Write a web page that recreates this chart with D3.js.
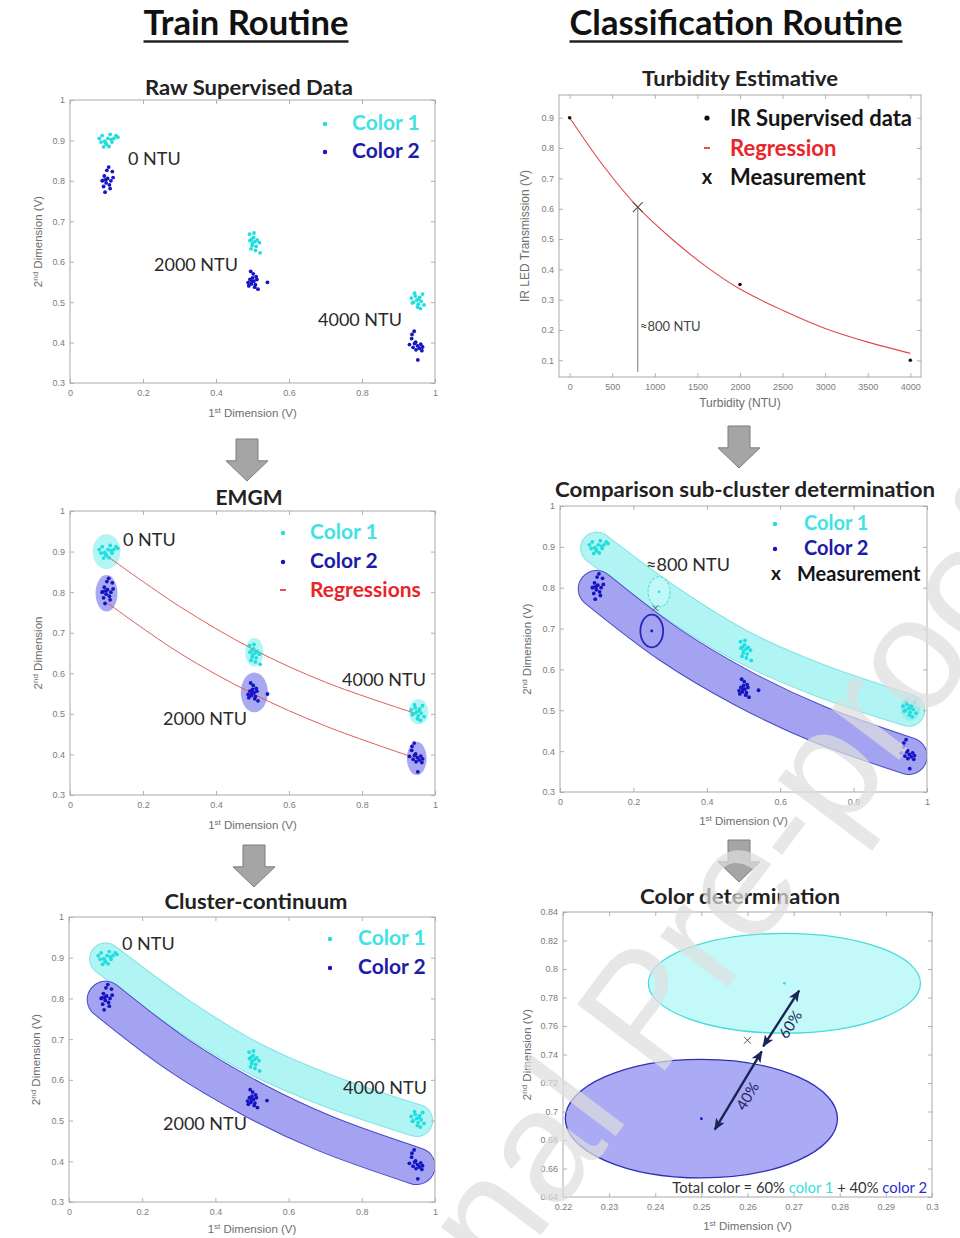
<!DOCTYPE html>
<html>
<head>
<meta charset="utf-8">
<script src="https://cdn.jsdelivr.net/npm/d3@7"></script>
<style>
  body { margin: 0; background: #fff; }
  svg { display: block; }
</style>
</head>
<body>
<svg id="fig" width="960" height="1238"></svg>
<script>
// ---------------- data ----------------
const routineHeaders = ["Train Routine", "Classification Routine"];
const panelTitles = ["Raw Supervised Data", "Turbidity Estimative", "EMGM",
  "Comparison sub-cluster determination", "Cluster-continuum", "Color determination"];
const turbidityLabels = ["0 NTU", "2000 NTU", "4000 NTU"];
const colorNames = ["Color 1", "Color 2"];

// supervised samples [1st dimension, 2nd dimension] (V)
const color1At0 = [[0.080,0.905],[0.088,0.912],[0.095,0.898],[0.100,0.890],[0.104,0.905],[0.110,0.915],[0.115,0.896],[0.120,0.905],[0.126,0.912],[0.092,0.884],[0.107,0.885],[0.098,0.893],[0.113,0.902],[0.085,0.896],[0.131,0.908]];
const color2At0 = [[0.088,0.800],[0.094,0.812],[0.099,0.795],[0.103,0.806],[0.108,0.790],[0.112,0.800],[0.118,0.808],[0.092,0.786],[0.096,0.772],[0.101,0.826],[0.106,0.834],[0.116,0.823],[0.090,0.801],[0.110,0.781],[0.098,0.803]];
const color1At2000 = [[0.492,0.668],[0.497,0.655],[0.500,0.645],[0.503,0.660],[0.507,0.650],[0.510,0.638],[0.496,0.632],[0.513,0.654],[0.519,0.647],[0.504,0.671],[0.521,0.622],[0.499,0.640],[0.508,0.628],[0.493,0.652]];
const color2At2000 = [[0.488,0.548],[0.493,0.556],[0.497,0.545],[0.500,0.560],[0.504,0.552],[0.508,0.543],[0.512,0.556],[0.495,0.576],[0.502,0.570],[0.506,0.537],[0.515,0.532],[0.490,0.540],[0.510,0.563],[0.541,0.549],[0.499,0.551]];
const color1At4000 = [[0.935,0.510],[0.941,0.500],[0.946,0.515],[0.950,0.505],[0.954,0.495],[0.958,0.512],[0.962,0.502],[0.966,0.520],[0.970,0.493],[0.952,0.488],[0.944,0.522],[0.960,0.484],[0.938,0.498],[0.956,0.508]];
const color2At4000 = [[0.930,0.395],[0.936,0.410],[0.940,0.388],[0.944,0.398],[0.948,0.382],[0.952,0.392],[0.957,0.386],[0.961,0.396],[0.966,0.389],[0.943,0.428],[0.937,0.420],[0.953,0.357],[0.964,0.380],[0.947,0.401]];

// EMGM Gaussian components: centre and 1-sigma radii (V)
const color1Components = [{cx:0.100, cy:0.900, sx:0.038, sy:0.043},{cx:0.505, cy:0.652, sx:0.025, sy:0.035},{cx:0.955, cy:0.505, sx:0.027, sy:0.031}];
const color2Components = [{cx:0.100, cy:0.797, sx:0.030, sy:0.045},{cx:0.505, cy:0.553, sx:0.037, sy:0.049},{cx:0.950, cy:0.390, sx:0.027, sy:0.041}];

// regressions through the component centres
const regression1 = [[0.10,0.890],[0.30,0.765],[0.50,0.660],[0.70,0.578],[0.95,0.500]];
const regression2 = [[0.10,0.775],[0.30,0.650],[0.50,0.550],[0.70,0.470],[0.95,0.390]];

// continuum band centre lines and half widths
const band1 = [[0.10,0.897],[0.30,0.765],[0.50,0.655],[0.70,0.576],[0.95,0.500]];
const band2 = [[0.10,0.797],[0.30,0.660],[0.50,0.553],[0.70,0.468],[0.95,0.388]];
const bandHalfWidth = [0.038, 0.044];

// turbidity from IR transmission
const irTurbidity = [0, 2000, 4000];
const irTransmission = [0.90, 0.35, 0.10];
const fitTurbidity = [0, 400, 800, 1200, 1600, 2000, 2500, 3000, 3500, 4000];
const fitTransmission = [0.900, 0.740, 0.605, 0.500, 0.410, 0.335, 0.265, 0.205, 0.160, 0.123];
const measuredTurbidity = 800;
const measuredTransmission = 0.605;
const measuredLabel = "\u2248800 NTU";

// sub-clusters at the measured turbidity and the measurement itself
const subCluster1 = {cx:0.268, cy:0.790, sx:0.0295, sy:0.035};
const subCluster2 = {cx:0.250, cy:0.695, sx:0.0295, sy:0.0416};
const measurement = [0.260, 0.750];
const subClusterRings = [{cx:0.270, cy:0.790, sx:0.030, sy:0.037},{cx:0.250, cy:0.694, sx:0.031, sy:0.040}];
const shareArrows = [
  {label:"60%", from:[0.2634,0.7457], to:[0.2712,0.7848]},
  {label:"40%", from:[0.2631,0.7422], to:[0.2529,0.6873]}
];
const totalColorParts = [["Total color = 60% ","#333"],["color 1","#39e0e0"],[" + 40% ","#333"],["color 2","#2b2bd0"]];

// tick values
const dimTicksX = [0, 0.2, 0.4, 0.6, 0.8, 1];
const dimTicksY = [0.3, 0.4, 0.5, 0.6, 0.7, 0.8, 0.9, 1];
const turbTicksX = [0, 500, 1000, 1500, 2000, 2500, 3000, 3500, 4000];
const turbTicksY = [0.1, 0.2, 0.3, 0.4, 0.5, 0.6, 0.7, 0.8, 0.9];
const zoomTicksX = [0.22, 0.23, 0.24, 0.25, 0.26, 0.27, 0.28, 0.29, 0.3];
const zoomTicksY = [0.64, 0.66, 0.68, 0.7, 0.72, 0.74, 0.76, 0.78, 0.8, 0.82, 0.84];

// ---------------- styles ----------------
const FONT = "Lato, 'Open Sans', sans-serif";
const AXFONT = "'Liberation Sans', Arial, sans-serif";
const C1 = "#1fdede", C2 = "#1414c4";
const C1TEXT = "#3fe3e3", C2TEXT = "#1c1ca8", RED = "#e8262a";

const svg = d3.select("#fig");
svg.append("rect").attr("width", 960).attr("height", 1238).attr("fill", "#fff");

const defs = svg.append("defs");
defs.append("marker").attr("id", "head").attr("viewBox", "0 0 12 10")
  .attr("refX", 11).attr("refY", 5).attr("markerWidth", 12).attr("markerHeight", 10)
  .attr("markerUnits", "userSpaceOnUse").attr("orient", "auto-start-reverse")
  .append("path").attr("d", "M0,0 L12,5 L0,10 L3,5 Z").attr("fill", "#1b2456");

// ---------------- helpers ----------------
function makePanel(box, xDomain, yDomain, id) {
  const x = d3.scaleLinear().domain(xDomain).range([box.l, box.r]);
  const y = d3.scaleLinear().domain(yDomain).range([box.b, box.t]);
  const g = svg.append("g");
  defs.append("clipPath").attr("id", id).append("rect")
    .attr("x", box.l).attr("y", box.t).attr("width", box.r - box.l).attr("height", box.b - box.t);
  const plot = g.append("g").attr("clip-path", `url(#${id})`);
  return {x, y, g, plot, box};
}

function drawAxes(p, xt, yt, fx, fy) {
  const {x, y, box, g} = p;
  const ax = g.append("g");
  const add = (axis, tr) => {
    const a = ax.append("g").attr("transform", tr).call(axis);
    a.select(".domain").remove();
    a.selectAll("line").attr("stroke", "#b2b2b2");
    a.selectAll("text").attr("fill", "#7c7c7c").attr("font-size", 9).attr("font-family", AXFONT);
  };
  const none = () => "";
  add(d3.axisBottom(x).tickValues(xt).tickFormat(fx).tickSize(-4).tickPadding(7), `translate(0,${box.b})`);
  add(d3.axisTop(x).tickValues(xt).tickFormat(none).tickSize(-4), `translate(0,${box.t})`);
  add(d3.axisLeft(y).tickValues(yt).tickFormat(fy).tickSize(-4).tickPadding(5), `translate(${box.l},0)`);
  add(d3.axisRight(y).tickValues(yt).tickFormat(none).tickSize(-4), `translate(${box.r},0)`);
  ax.append("rect").attr("x", box.l).attr("y", box.t)
    .attr("width", box.r - box.l).attr("height", box.b - box.t)
    .attr("fill", "none").attr("stroke", "#a9a9a9");
}

function richText(g, x, y, parts, opts) {
  const t = g.append("text").attr("x", x).attr("y", y)
    .attr("font-family", opts.family || AXFONT).attr("font-size", opts.size)
    .attr("fill", opts.fill || "#6e6e6e").attr("text-anchor", opts.anchor || "middle");
  if (opts.rotate) t.attr("transform", `rotate(${opts.rotate},${x},${y})`);
  parts.forEach(([s, sup]) => {
    const ts = t.append("tspan").text(s);
    if (sup) ts.attr("baseline-shift", "super").attr("font-size", opts.size * 0.7);
  });
  return t;
}

const AXIS_TITLE = 11.5;
function dimLabels(p, xLabelY, yLabelX, yParts) {
  const {box, g} = p;
  richText(g, (box.l + box.r) / 2, xLabelY, [["1"], ["st", true], [" Dimension (V)"]], {size: AXIS_TITLE});
  richText(g, yLabelX, (box.t + box.b) / 2, yParts || [["2"], ["nd", true], [" Dimension (V)"]], {size: AXIS_TITLE, rotate: -90});
}

function fitWidth(sel, w) {
  return sel.attr("textLength", w).attr("lengthAdjust", "spacingAndGlyphs");
}

function title(text, x, y, w) {
  const t = svg.append("text").attr("x", x).attr("y", y).attr("text-anchor", "middle")
    .attr("font-family", FONT).attr("font-weight", 700).attr("font-size", 21)
    .attr("fill", "#222").text(text);
  fitWidth(t, w);
}

function label(g, text, x, y, o = {}) {
  return g.append("text").attr("x", x).attr("y", y)
    .attr("font-family", FONT).attr("font-weight", o.weight || 400)
    .attr("font-size", o.size || 18).attr("fill", o.fill || "#2a2a2a")
    .attr("text-anchor", o.anchor || "start").text(text);
}

function dots(p, pts, color, r = 1.9) {
  p.plot.append("g").selectAll("circle").data(pts).join("circle")
    .attr("cx", d => p.x(d[0])).attr("cy", d => p.y(d[1])).attr("r", r).attr("fill", color);
}

function allClusters(p) {
  [color1At0, color1At2000, color1At4000].forEach(s => dots(p, s, C1));
  [color2At0, color2At2000, color2At4000].forEach(s => dots(p, s, C2));
}

function ellipse(p, c, fill, stroke, sw = 1, op = 1) {
  return p.plot.append("ellipse")
    .attr("cx", p.x(c.cx)).attr("cy", p.y(c.cy))
    .attr("rx", Math.abs(p.x(c.cx + c.sx) - p.x(c.cx)))
    .attr("ry", Math.abs(p.y(c.cy + c.sy) - p.y(c.cy)))
    .attr("fill", fill).attr("fill-opacity", op)
    .attr("stroke", stroke).attr("stroke-width", sw);
}

function cross(g, cx, cy, h, color, sw) {
  g.append("path").attr("d", `M${cx - h},${cy - h}L${cx + h},${cy + h}M${cx - h},${cy + h}L${cx + h},${cy - h}`)
    .attr("stroke", color).attr("stroke-width", sw).attr("fill", "none");
}

function bands(p) {
  const line = d3.line().x(d => p.x(d[0])).y(d => p.y(d[1])).curve(d3.curveCatmullRom);
  const specs = [
    {pts: band1, hw: bandHalfWidth[0], fill: "#b0f4f4", edge: "#84e4e4"},
    {pts: band2, hw: bandHalfWidth[1], fill: "#a3a3f1", edge: "#4b4bc8"}
  ];
  specs.forEach(s => {
    const w = Math.abs(p.y(0) - p.y(s.hw)) * 2;
    p.plot.append("path").attr("d", line(s.pts)).attr("fill", "none")
      .attr("stroke", s.edge).attr("stroke-width", w + 2).attr("stroke-linecap", "round");
    p.plot.append("path").attr("d", line(s.pts)).attr("fill", "none")
      .attr("stroke", s.fill).attr("stroke-width", w).attr("stroke-linecap", "round");
  });
}

function dotLegend(g, x, tx, ys, items, size) {
  items.forEach((it, i) => {
    g.append("circle").attr("cx", x).attr("cy", ys[i] - 6).attr("r", 2.2).attr("fill", it.mark);
    label(g, it.text, tx, ys[i], {size, weight: 700, fill: it.fill});
  });
}

function blockArrow(cx, top, h) {
  const pts = [[cx - 11, top], [cx + 11, top], [cx + 11, top + h * 0.52], [cx + 21, top + h * 0.52],
    [cx, top + h], [cx - 21, top + h * 0.52], [cx - 11, top + h * 0.52]];
  svg.append("polygon").attr("points", pts.map(d => d.join(",")).join(" "))
    .attr("fill", "#a5a5a5").attr("stroke", "#7d7d7d").attr("stroke-width", 1);
}

// ---------------- column headers ----------------
[[routineHeaders[0], 246, 205], [routineHeaders[1], 736, 333]].forEach(([t, x, w]) => {
  const el = svg.append("text").attr("x", x).attr("y", 35).attr("text-anchor", "middle")
    .attr("font-family", FONT).attr("font-weight", 700).attr("font-size", 34)
    .attr("fill", "#111").text(t);
  fitWidth(el, w);
  svg.append("line").attr("x1", x - w / 2).attr("x2", x + w / 2).attr("y1", 41.5).attr("y2", 41.5)
    .attr("stroke", "#222").attr("stroke-width", 2.6);
});

const fmt1 = d3.format("");

// ---------------- panel 1: raw supervised data ----------------
const p1 = makePanel({l: 70, r: 435, t: 100, b: 383}, [0, 1], [0.3, 1], "c1");
drawAxes(p1, dimTicksX, dimTicksY, fmt1, fmt1);
allClusters(p1);
dimLabels(p1, 417, 42);
title(panelTitles[0], 249, 95, 208);
label(p1.g, turbidityLabels[0], 128, 165);
label(p1.g, turbidityLabels[1], 154, 271);
label(p1.g, turbidityLabels[2], 318, 326);
dotLegend(p1.g, 325, 352, [130, 158],
  [{mark: C1, text: colorNames[0], fill: C1TEXT}, {mark: C2, text: colorNames[1], fill: C2TEXT}], 21);

// ---------------- panel 2: turbidity estimative ----------------
const p2 = makePanel({l: 559, r: 921, t: 95, b: 377}, [-125, 4125], [0.045, 0.975], "c2");
drawAxes(p2, turbTicksX, turbTicksY, d3.format("d"), fmt1);
const fitLine = d3.line().x(d => p2.x(d[0])).y(d => p2.y(d[1])).curve(d3.curveCatmullRom);
p2.plot.append("path").attr("d", fitLine(fitTurbidity.map((t, i) => [t, fitTransmission[i]])))
  .attr("fill", "none").attr("stroke", "#e24848").attr("stroke-width", 1.1);
p2.plot.append("g").selectAll("circle").data(irTurbidity).join("circle")
  .attr("cx", d => p2.x(d)).attr("cy", (d, i) => p2.y(irTransmission[i])).attr("r", 1.8).attr("fill", "#111");
p2.plot.append("line").attr("x1", p2.x(measuredTurbidity)).attr("x2", p2.x(measuredTurbidity))
  .attr("y1", p2.y(measuredTransmission)).attr("y2", p2.y(0.062))
  .attr("stroke", "#777").attr("stroke-width", 1);
cross(p2.plot, p2.x(measuredTurbidity), p2.y(measuredTransmission), 5, "#555", 1.1);
label(p2.g, measuredLabel, 640, 331, {size: 13, fill: "#444"});
richText(p2.g, 740, 407, [["Turbidity (NTU)"]], {size: 12});
richText(p2.g, 529, 236, [["IR LED Transmission (V)"]], {size: 12, rotate: -90});
title(panelTitles[1], 740, 86, 196);
p2.g.append("circle").attr("cx", 707).attr("cy", 118).attr("r", 2.6).attr("fill", "#111");
label(p2.g, "IR Supervised data", 730, 126, {size: 22, weight: 700, fill: "#151515"});
p2.g.append("line").attr("x1", 704).attr("x2", 710).attr("y1", 148).attr("y2", 148).attr("stroke", RED).attr("stroke-width", 1.6);
label(p2.g, "Regression", 730, 156, {size: 22, weight: 700, fill: RED});
label(p2.g, "x", 707, 184, {size: 20, weight: 700, fill: "#151515", anchor: "middle"});
label(p2.g, "Measurement", 730, 185, {size: 22, weight: 700, fill: "#151515"});

// ---------------- panel 3: EMGM ----------------
const p3 = makePanel({l: 70, r: 435, t: 511, b: 795}, [0, 1], [0.3, 1], "c3");
drawAxes(p3, dimTicksX, dimTicksY, fmt1, fmt1);
color1Components.forEach(c => ellipse(p3, c, "#7deeee", "none", 0, 0.6));
color2Components.forEach(c => ellipse(p3, c, "#6f6fea", "none", 0, 0.6));
const regLine = d3.line().x(d => p3.x(d[0])).y(d => p3.y(d[1])).curve(d3.curveCatmullRom);
[regression1, regression2].forEach(r => p3.plot.append("path").attr("d", regLine(r))
  .attr("fill", "none").attr("stroke", "#e55a5a").attr("stroke-width", 1));
allClusters(p3);
dimLabels(p3, 829, 42, [["2"], ["nd", true], [" Dimension"]]);
title(panelTitles[2], 249, 505, 67);
label(p3.g, turbidityLabels[0], 123, 546);
label(p3.g, turbidityLabels[1], 163, 725);
label(p3.g, turbidityLabels[2], 342, 686);
dotLegend(p3.g, 283, 310, [539, 568],
  [{mark: C1, text: colorNames[0], fill: C1TEXT}, {mark: C2, text: colorNames[1], fill: C2TEXT}], 21);
p3.g.append("line").attr("x1", 280).attr("x2", 286).attr("y1", 590).attr("y2", 590).attr("stroke", RED).attr("stroke-width", 1.6);
label(p3.g, "Regressions", 310, 597, {size: 21, weight: 700, fill: RED});

// ---------------- panel 4: sub-cluster comparison ----------------
const p4 = makePanel({l: 560, r: 927, t: 506, b: 792}, [0, 1], [0.3, 1], "c4");
drawAxes(p4, dimTicksX, dimTicksY, fmt1, fmt1);
bands(p4);
ellipse(p4, color1Components[2], "#86e8e8", "none", 0, 0.6);
ellipse(p4, subClusterRings[0], "#c8fafa", "#5fe0e0", 1.2, 0.7).attr("stroke-dasharray", "3,1.5");
ellipse(p4, subClusterRings[1], "none", "#2626b8", 1.8);
allClusters(p4);
p4.plot.append("circle").attr("cx", p4.x(subClusterRings[0].cx)).attr("cy", p4.y(subClusterRings[0].cy)).attr("r", 1.2).attr("fill", C1);
p4.plot.append("circle").attr("cx", p4.x(subClusterRings[1].cx)).attr("cy", p4.y(subClusterRings[1].cy)).attr("r", 1.4).attr("fill", C2);
cross(p4.plot, p4.x(measurement[0]), p4.y(measurement[1]), 3, "#555", 1);
dimLabels(p4, 825, 531);
title(panelTitles[3], 745, 497, 380);
label(p4.g, measuredLabel, 646, 571, {size: 18});
dotLegend(p4.g, 775, 804, [530, 555],
  [{mark: C1, text: colorNames[0], fill: C1TEXT}, {mark: C2, text: colorNames[1], fill: C2TEXT}], 20);
label(p4.g, "x", 776, 580, {size: 19, weight: 700, fill: "#151515", anchor: "middle"});
label(p4.g, "Measurement", 797, 581, {size: 20, weight: 700, fill: "#151515"});

// ---------------- panel 5: cluster continuum ----------------
const p5 = makePanel({l: 69, r: 435, t: 917, b: 1202}, [0, 1], [0.3, 1], "c5");
drawAxes(p5, dimTicksX, dimTicksY, fmt1, fmt1);
bands(p5);
allClusters(p5);
dimLabels(p5, 1233, 40);
title(panelTitles[4], 256, 909, 183);
label(p5.g, turbidityLabels[0], 122, 950);
label(p5.g, turbidityLabels[2], 343, 1094);
label(p5.g, turbidityLabels[1], 163, 1130);
dotLegend(p5.g, 330, 358, [945, 974],
  [{mark: C1, text: colorNames[0], fill: C1TEXT}, {mark: C2, text: colorNames[1], fill: C2TEXT}], 21);

// ---------------- panel 6: color determination ----------------
const p6 = makePanel({l: 563, r: 932, t: 912, b: 1197}, [0.22, 0.3], [0.64, 0.84], "c6");
drawAxes(p6, zoomTicksX, zoomTicksY, fmt1, fmt1);
ellipse(p6, subCluster1, "#c4f9f9", "#46dcdc", 1.3);
ellipse(p6, subCluster2, "#aaaaf5", "#2e2eb4", 1.3);
p6.plot.append("circle").attr("cx", p6.x(subCluster1.cx)).attr("cy", p6.y(subCluster1.cy)).attr("r", 1.2).attr("fill", C1);
p6.plot.append("circle").attr("cx", p6.x(subCluster2.cx)).attr("cy", p6.y(subCluster2.cy)).attr("r", 1.4).attr("fill", C2);
cross(p6.plot, p6.x(measurement[0]), p6.y(measurement[1]), 3.5, "#555", 1);
shareArrows.forEach(a => {
  const x1 = p6.x(a.from[0]), y1 = p6.y(a.from[1]), x2 = p6.x(a.to[0]), y2 = p6.y(a.to[1]);
  p6.g.append("line").attr("x1", x1).attr("y1", y1).attr("x2", x2).attr("y2", y2)
    .attr("stroke", "#1b2456").attr("stroke-width", 2.4)
    .attr("marker-start", "url(#head)").attr("marker-end", "url(#head)");
  const ang = Math.atan2(y2 - y1, x2 - x1) * 180 / Math.PI;
  const rot = ang > 90 || ang < -90 ? ang + 180 : ang;
  const mx = (x1 + x2) / 2, my = (y1 + y2) / 2;
  const nx = -(y2 - y1), ny = (x2 - x1), nl = Math.hypot(nx, ny);
  const s = nx > 0 ? 1 : -1;
  const tx = mx + s * nx / nl * 11, ty = my + s * ny / nl * 11;
  p6.g.append("text").attr("x", tx).attr("y", ty).attr("dy", "0.35em")
    .attr("text-anchor", "middle").attr("font-family", FONT).attr("font-size", 15)
    .attr("fill", "#1b2456").attr("transform", `rotate(${rot},${tx},${ty})`).text(a.label);
});
const tc = p6.g.append("text").attr("x", 927).attr("y", 1193).attr("text-anchor", "end")
  .attr("font-family", FONT).attr("font-size", 14.8);
totalColorParts.forEach(([s, c]) => tc.append("tspan").attr("fill", c).text(s));
dimLabels(p6, 1230, 531);
title(panelTitles[5], 740, 904, 200);

// ---------------- flow arrows ----------------
blockArrow(247, 439, 42);
blockArrow(739, 426, 42);
blockArrow(254, 845, 42);
blockArrow(739, 840, 42);

// ---------------- watermark ----------------
const wm = svg.append("g").attr("transform", "translate(657,1081) rotate(-53)")
  .attr("font-family", "'Liberation Sans', Arial, sans-serif").attr("font-size", 160)
  .attr("fill", "#dedede").attr("fill-opacity", 0.72);
wm.append("text").attr("x", -44).attr("text-anchor", "end").text("Journal");
wm.append("text").attr("x", 0).attr("text-anchor", "start").text("Pre-proof");
</script>
</body>
</html>
